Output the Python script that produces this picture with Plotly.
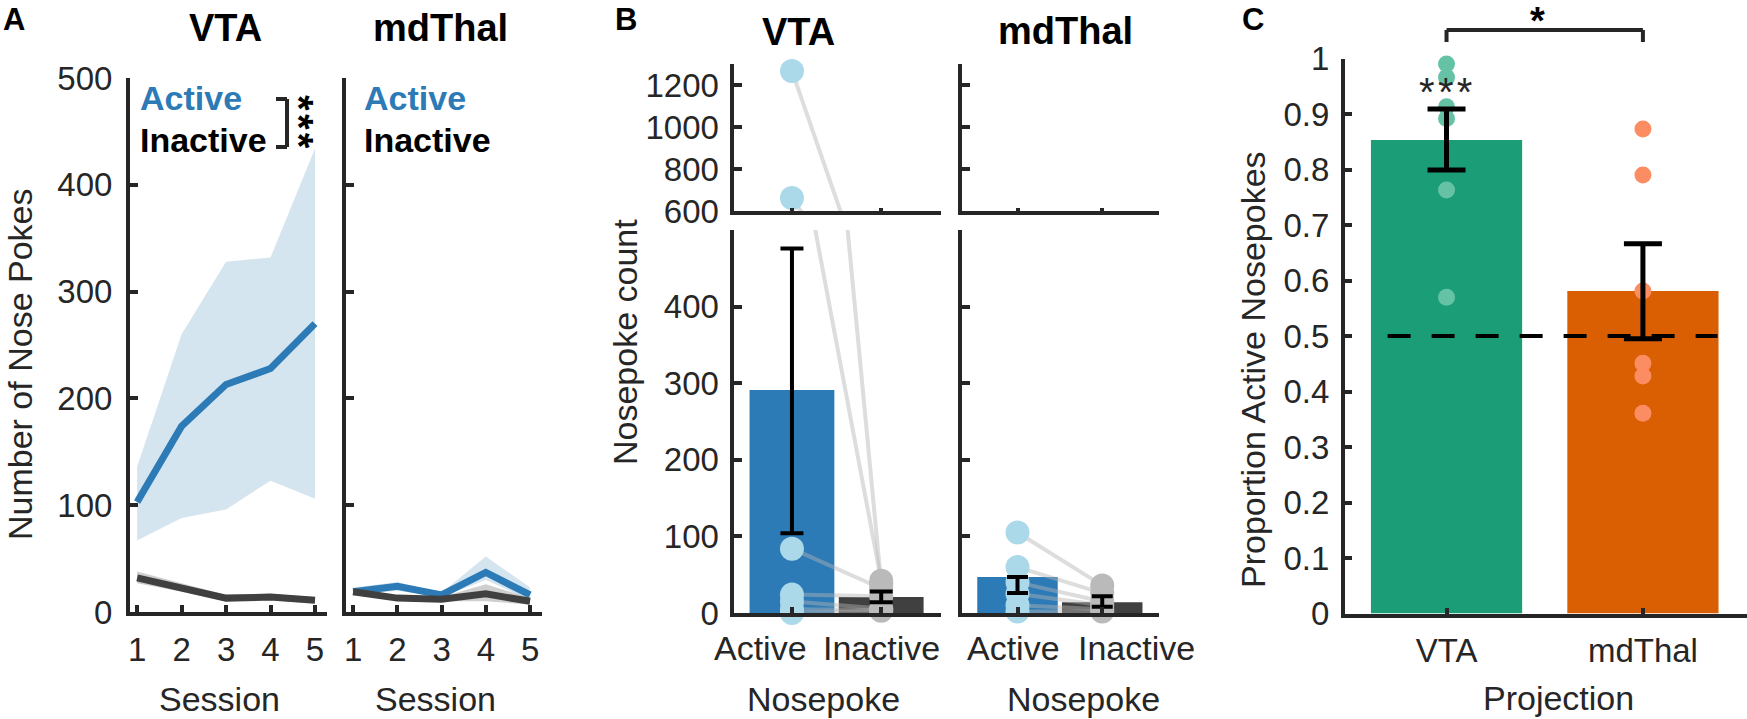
import plotly.graph_objects as go

W, H = 1747, 719
FONT = "Liberation Sans, Arial, Helvetica, sans-serif"
AX = "#262626"

# ---------------- data ----------------
sessions = [1, 2, 3, 4, 5]
vta_act_mean = [103, 174, 213, 228, 270]
vta_act_hi = [136, 260, 328, 332, 434]
vta_act_lo = [67, 88, 96, 123, 106]
vta_ina_mean = [32, 23, 13, 14, 11]
vta_ina_hi = [38, 27, 16, 17, 14]
vta_ina_lo = [27, 19, 10, 11, 8]

md_act_mean = [19, 24, 16, 37, 16]
md_act_hi = [23, 28, 18, 52, 23]
md_act_lo = [16, 20, 14, 30, 11]
md_ina_mean = [19, 13, 12, 17, 10]
md_ina_hi = [22, 15, 14, 26, 13]
md_ina_lo = [16, 11, 10, 10, 7]

nosepoke_types = ["Active", "Inactive"]
vta_bar = [291, 21]
vta_err_center = [290, 21]
vta_err_half = [186, 7]
vta_active_pts = [1267, 662, 84, 24, 15, 5, 0]
vta_inactive_pts = [38, 42, 32, 22, 6, 4, 3]

md_bar = [47, 14]
md_err_center = [36.5, 15]
md_err_half = [10.5, 7]
md_active_pts = [105, 60, 40, 25, 10, 2]
md_inactive_pts = [36, 26, 15, 10, 5, 2]

projections = ["VTA", "mdThal"]
prop_mean = [0.853, 0.581]
prop_err_center = [0.854, 0.5805]
prop_sem = [0.055, 0.0855]
vta_prop_pts = [0.990, 0.966, 0.913, 0.892, 0.763, 0.570]
md_prop_pts = [0.873, 0.790, 0.581, 0.451, 0.428, 0.361]
chance_level = 0.5

# ---------------- styles ----------------
BLUE = "#2c7bb6"
LIGHTBLUE = "#abd9e9"
DARK = "#404040"
GRAYDOT = "#bababa"
BAND_BLUE = "rgba(44,123,182,0.2)"
BAND_GRAY = "rgba(64,64,64,0.25)"
PAIRLINE = "rgba(180,180,180,0.45)"
C_BAR = ["#1b9e77", "#d95f02"]
C_DOT = ["#66c2a5", "#fc8d62"]


def xd(a, b):
    return [a / W, b / W]


def yd(top, bottom):
    return [1 - bottom / H, 1 - top / H]


# subplot geometry (pixels) and ranges
P = {
    1: dict(x=(130, 327), y=(78, 612), xr=[0.84, 5.27], yr=[0, 500]),
    2: dict(x=(346, 542), y=(78, 612), xr=[0.84, 5.27], yr=[0, 500]),
    3: dict(x=(733.5, 941), y=(64, 211), xr=[0.345, 2.67], yr=[600, 1300]),
    4: dict(x=(733.5, 941), y=(230, 613), xr=[0.345, 2.67], yr=[0, 500]),
    5: dict(x=(962, 1159), y=(64, 211), xr=[0.345, 2.67], yr=[600, 1300]),
    6: dict(x=(962, 1159), y=(230, 613), xr=[0.345, 2.67], yr=[0, 500]),
    7: dict(x=(1345, 1747), y=(58.5, 613.5), xr=[0.483, 2.53], yr=[0, 1]),
}


def px_x(i, v):
    p = P[i]
    return p["x"][0] + (v - p["xr"][0]) / (p["xr"][1] - p["xr"][0]) * (p["x"][1] - p["x"][0])


fig = go.Figure()


def ref(i):
    return ("x" if i == 1 else f"x{i}"), ("y" if i == 1 else f"y{i}")


# ---------------- panel A ----------------
def panelA(i, am, ah, al, im, ih, il):
    xr, yr = ref(i)
    fig.add_trace(go.Scatter(x=sessions + sessions[::-1], y=ah + al[::-1], fill="toself",
                             fillcolor=BAND_BLUE, line=dict(width=0), mode="lines",
                             hoverinfo="skip", xaxis=xr, yaxis=yr, showlegend=False))
    fig.add_trace(go.Scatter(x=sessions, y=am, mode="lines", line=dict(color=BLUE, width=7),
                             xaxis=xr, yaxis=yr, showlegend=False))
    fig.add_trace(go.Scatter(x=sessions + sessions[::-1], y=ih + il[::-1], fill="toself",
                             fillcolor=BAND_GRAY, line=dict(width=0), mode="lines",
                             hoverinfo="skip", xaxis=xr, yaxis=yr, showlegend=False))
    fig.add_trace(go.Scatter(x=sessions, y=im, mode="lines", line=dict(color=DARK, width=7),
                             xaxis=xr, yaxis=yr, showlegend=False))


panelA(1, vta_act_mean, vta_act_hi, vta_act_lo, vta_ina_mean, vta_ina_hi, vta_ina_lo)
panelA(2, md_act_mean, md_act_hi, md_act_lo, md_ina_mean, md_ina_hi, md_ina_lo)


# ---------------- panel B ----------------
def panelB(i, bars, ec, eh, apts, ipts, cap):
    xr, yr = ref(i)
    lo, hi = P[i]["yr"]
    if i in (4, 6):
        fig.add_trace(go.Bar(x=[1, 2], y=bars, width=0.95, marker=dict(color=[BLUE, DARK], line=dict(width=0)),
                             xaxis=xr, yaxis=yr, showlegend=False))
    lx, ly = [], []
    for a, b in zip(apts, ipts):
        lx += [1, 2, None]
        ly += [a, b, None]
    fig.add_trace(go.Scatter(x=lx, y=ly, mode="lines", line=dict(color=PAIRLINE, width=4),
                             xaxis=xr, yaxis=yr, showlegend=False))
    ia = [v for v in ipts if lo <= v <= hi]
    aa = [v for v in apts if lo <= v <= hi]
    if ia:
        fig.add_trace(go.Scatter(x=[2] * len(ia), y=ia, mode="markers", cliponaxis=False,
                                 marker=dict(size=24, color=GRAYDOT, line=dict(width=0)),
                                 xaxis=xr, yaxis=yr, showlegend=False))
    if aa:
        fig.add_trace(go.Scatter(x=[1] * len(aa), y=aa, mode="markers", cliponaxis=False,
                                 marker=dict(size=24, color=LIGHTBLUE, line=dict(width=0)),
                                 xaxis=xr, yaxis=yr, showlegend=False))
    if i in (4, 6):
        fig.add_trace(go.Scatter(x=[1, 2], y=ec, mode="markers", cliponaxis=False,
                                 marker=dict(size=1, color="rgba(0,0,0,0)"),
                                 error_y=dict(type="data", array=eh, color="black", thickness=4, width=cap),
                                 xaxis=xr, yaxis=yr, showlegend=False))


panelB(3, vta_bar, vta_err_center, vta_err_half, vta_active_pts, vta_inactive_pts, 11.5)
panelB(4, vta_bar, vta_err_center, vta_err_half, vta_active_pts, vta_inactive_pts, 11.5)
panelB(5, md_bar, md_err_center, md_err_half, md_active_pts, md_inactive_pts, 10.5)
panelB(6, md_bar, md_err_center, md_err_half, md_active_pts, md_inactive_pts, 10.5)

# ---------------- panel C ----------------
fig.add_trace(go.Bar(x=[1, 2], y=prop_mean, width=0.77, marker=dict(color=C_BAR, line=dict(width=0)),
                     xaxis="x7", yaxis="y7", showlegend=False))
fig.add_trace(go.Scatter(x=[1] * len(vta_prop_pts), y=vta_prop_pts, mode="markers", cliponaxis=False,
                         marker=dict(size=17, color=C_DOT[0]), xaxis="x7", yaxis="y7", showlegend=False))
fig.add_trace(go.Scatter(x=[2] * len(md_prop_pts), y=md_prop_pts, mode="markers", cliponaxis=False,
                         marker=dict(size=17, color=C_DOT[1]), xaxis="x7", yaxis="y7", showlegend=False))
CH_X = [0.7, 2.38]
fig.add_trace(go.Scatter(x=CH_X, y=[chance_level, chance_level], mode="lines",
                         line=dict(color="black", width=4, dash="23px,21px"),
                         xaxis="x7", yaxis="y7", showlegend=False))
fig.add_trace(go.Scatter(x=[1, 2], y=prop_err_center, mode="markers", cliponaxis=False,
                         marker=dict(size=1, color="rgba(0,0,0,0)"),
                         error_y=dict(type="data", array=prop_sem, color="black", thickness=5, width=19),
                         xaxis="x7", yaxis="y7", showlegend=False))

# ---------------- axes ----------------
TICKF = dict(family=FONT, size=33, color=AX)


def axis_common():
    return dict(showline=True, linewidth=4, linecolor=AX, ticks="inside", tickwidth=4, tickcolor=AX,
                showgrid=False, zeroline=False, tickfont=TICKF, fixedrange=True, automargin=False)


layout_axes = {}
for i, p in P.items():
    xn = "xaxis" if i == 1 else f"xaxis{i}"
    yn = "yaxis" if i == 1 else f"yaxis{i}"
    xr, yr = ref(i)
    xa = axis_common()
    ya = axis_common()
    xa.update(domain=xd(*p["x"]), range=p["xr"], anchor=yr)
    ya.update(domain=yd(*p["y"]), range=p["yr"], anchor=xr)
    if i in (1, 2):
        xa.update(tickvals=sessions, ticktext=[str(s) for s in sessions], ticklen=7, ticklabelstandoff=5)
        ya.update(tickvals=[0, 100, 200, 300, 400, 500], ticklen=8, ticklabelstandoff=7)
        if i == 2:
            ya.update(showticklabels=False)
    elif i in (3, 5):
        xa.update(tickvals=[1, 2], ticklen=3, showticklabels=False)
        ya.update(tickvals=[600, 800, 1000, 1200, 1300], ticktext=["600", "800", "1000", "1200", ""],
                  ticklen=8, ticklabelstandoff=4)
        if i == 5:
            ya.update(showticklabels=False)
    elif i in (4, 6):
        xa.update(tickvals=[1, 2], ticklen=6, showticklabels=False)
        ya.update(tickvals=[0, 100, 200, 300, 400, 500], ticktext=["0", "100", "200", "300", "400", ""],
                  ticklen=8, ticklabelstandoff=4)
        if i == 6:
            ya.update(showticklabels=False)
    else:
        xa.update(tickvals=[1, 2], ticktext=projections, ticklen=6, ticklabelstandoff=5)
        ya.update(tickvals=[k / 10 for k in range(11)],
                  ticktext=["0"] + [f"0.{k}" for k in range(1, 10)] + ["1"],
                  ticklen=7, ticklabelstandoff=5)
    layout_axes[xn] = xa
    layout_axes[yn] = ya

fig.update_layout(**layout_axes)

# ---------------- text ----------------
ann = []


def T(text, x, y, size, bold=False, color=AX, angle=0, xanchor="center", yanchor="middle"):
    t = f"<b>{text}</b>" if bold else text
    ann.append(dict(text=t, x=x / W, y=1 - y / H, xref="paper", yref="paper", showarrow=False,
                    font=dict(family=FONT, size=size, color=color), textangle=angle,
                    xanchor=xanchor, yanchor=yanchor))


HS = "&#8202;"
# panel letters
T("A", 14, 19, 31, bold=True, color="black")
T("B", 626, 19, 31, bold=True, color="black")
T("C", 1253, 19, 31, bold=True, color="black")
# titles
T("VTA", 225, 28, 38, bold=True, color="black")
T("mdThal", 440, 28, 38, bold=True, color="black")
T("VTA", 798, 32, 38, bold=True, color="black")
T("mdThal", 1065, 31, 38, bold=True, color="black")
# panel A legends
for x0 in (138, 362):
    T("Active", x0, 98, 34, bold=True, color=BLUE, xanchor="left")
    T("Inactive", x0, 140, 34, bold=True, color="black", xanchor="left")
T(HS.join("***"), 299, 122, 40, bold=True, color="black", angle=90)
# axis labels
T("Number of Nose Pokes", 20, 364, 34, angle=-90)
T("Session", 219, 699, 34)
T("Session", 435, 699, 34)
T("Nosepoke count", 625, 342, 34, angle=-90)
T("Active", 760, 648, 34)
T("Inactive", 881, 648, 34)
T("Active", 1013, 648, 34)
T("Inactive", 1136, 648, 34)
T("Nosepoke", 823, 699, 34)
T("Nosepoke", 1083, 699, 34)
T("Proportion Active Nosepokes", 1253, 370, 34, angle=-90)
T("Projection", 1558, 698, 34)
T(HS.join("***"), 1445, 92.5, 40, color=AX)
T("*", 1537, 21, 38, bold=True, color="black")

# brackets
shapes = []
bx0, bx1 = px_x(7, 1), px_x(7, 2)
for seg in [((bx0, 42), (bx0, 30)), ((bx0, 30), (bx1, 30)), ((bx1, 30), (bx1, 42))]:
    (x0, y0), (x1, y1) = seg
    shapes.append(dict(type="line", xref="paper", yref="paper", x0=x0 / W, y0=1 - y0 / H, x1=x1 / W,
                       y1=1 - y1 / H, line=dict(color=AX, width=4)))
for seg in [((276, 99), (287, 99)), ((287, 99), (287, 147)), ((287, 147), (276, 147))]:
    (x0, y0), (x1, y1) = seg
    shapes.append(dict(type="line", xref="paper", yref="paper", x0=x0 / W, y0=1 - y0 / H, x1=x1 / W,
                       y1=1 - y1 / H, line=dict(color=AX, width=4)))

fig.update_layout(template="none", width=W, height=H, margin=dict(l=0, r=0, t=0, b=0, pad=0),
                  autosize=False, paper_bgcolor="white",
                  plot_bgcolor="white", annotations=ann, shapes=shapes, showlegend=False,
                  barmode="overlay", font=dict(family=FONT, color=AX))

fig.write_html("out.html", config={"displayModeBar": False, "staticPlot": True},
               post_script="document.body.style.margin='0px';document.body.style.overflow='hidden';")
